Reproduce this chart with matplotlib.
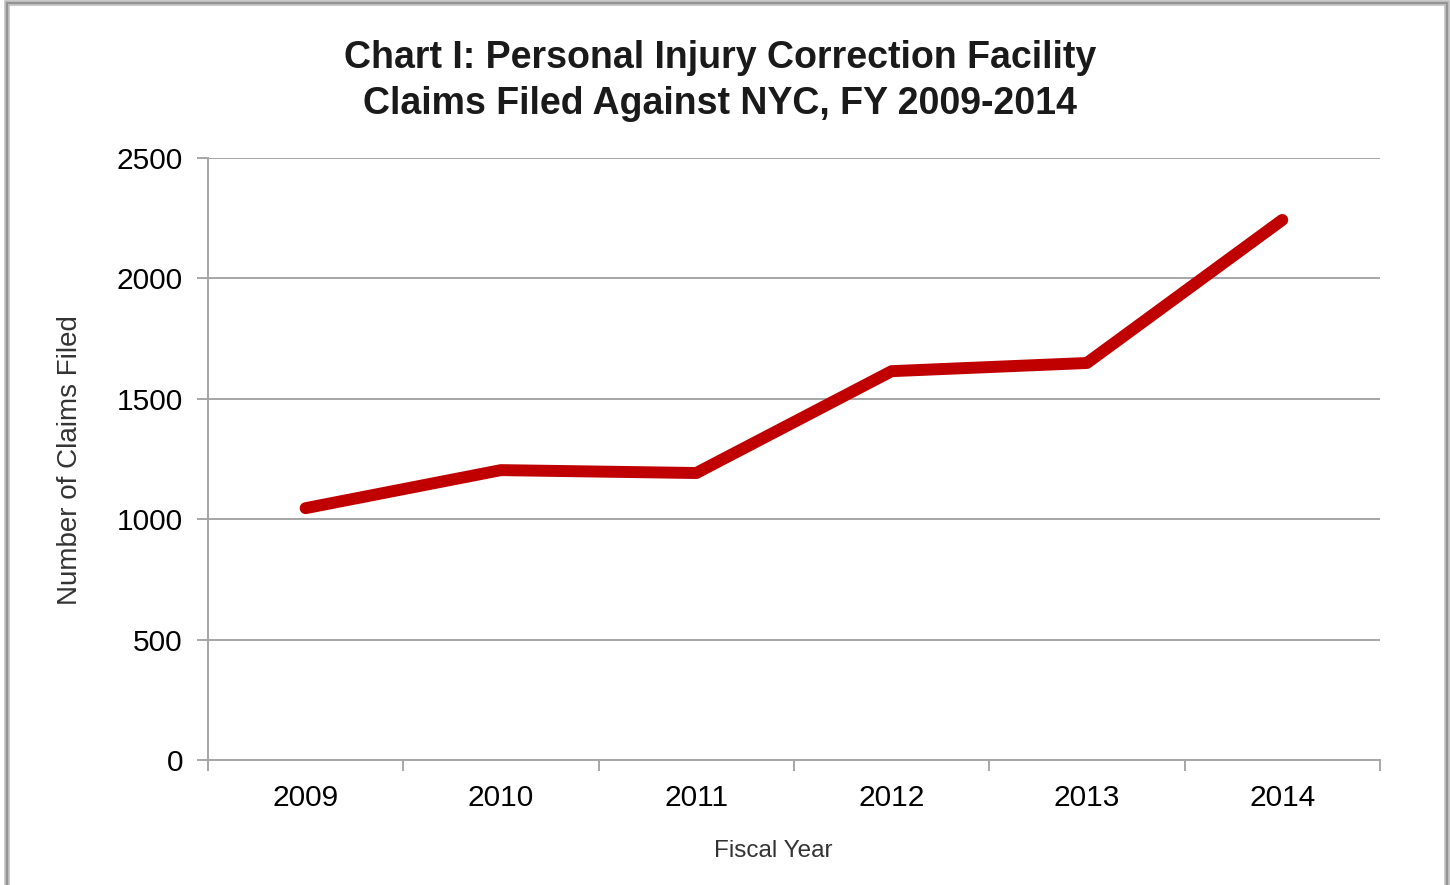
import matplotlib.pyplot as plt
from matplotlib.patches import Rectangle

# data
years = ['2009', '2010', '2011', '2012', '2013', '2014']
claims = [1046, 1204, 1192, 1615, 1649, 2243]
y_ticks = [0, 500, 1000, 1500, 2000, 2500]

plt.rcParams['font.family'] = ['Liberation Sans', 'DejaVu Sans']

fig = plt.figure(figsize=(14.5, 8.85), dpi=100)
ax = fig.add_axes([0.1434, 0.1412, 0.8083, 0.6802])

# outer frame with a bit of shadow
fig.patches.append(Rectangle((0.0048, -0.02), 0.9934, 1.0166, transform=fig.transFigure,
                             fill=False, edgecolor='#bdbdbd', linewidth=4, zorder=0))
fig.patches.append(Rectangle((0.0048, -0.02), 0.9934, 1.0166, transform=fig.transFigure,
                             fill=False, edgecolor='#8c8c8c', linewidth=1.2, zorder=1))

x = list(range(len(years)))
ax.plot(x, claims, color='#C00000', linewidth=8.6, solid_capstyle='round',
        solid_joinstyle='round', zorder=3)

grid_c = '#a6a6a6'
ax.set_xlim(-0.5, len(years) - 0.5)
ax.set_ylim(0, 2500)
ax.set_yticks(y_ticks)
ax.set_yticklabels([str(v) for v in y_ticks])
ax.yaxis.grid(True, color=grid_c, linewidth=1.4)
ax.set_axisbelow(True)

ax.set_xticks([i - 0.5 for i in range(len(years) + 1)])
ax.set_xticklabels([])
ax.set_xticks(x, minor=True)
ax.set_xticklabels(years, minor=True)
ax.tick_params(axis='x', which='major', length=8, width=1.4, color=grid_c)
ax.tick_params(axis='x', which='minor', length=0, pad=17, labelsize=21.5)
ax.tick_params(axis='y', length=8, width=1.4, color=grid_c, labelsize=21.5, pad=10)

for s in ['top', 'right']:
    ax.spines[s].set_visible(False)
for s in ['left', 'bottom']:
    ax.spines[s].set_color(grid_c)
    ax.spines[s].set_linewidth(1.4)

fig.text(773 / 1450, 1 - 851 / 885, 'Fiscal Year', ha='center', va='center',
         fontsize=17.5, color='#333333')
fig.text(70 / 1450, 1 - 460 / 885, 'Number of Claims Filed', ha='center', va='center',
         rotation=90, fontsize=20, color='#333333')

fig.text(720 / 1450, 1 - 81 / 885, 'Chart I: Personal Injury Correction Facility\nClaims Filed Against NYC, FY 2009-2014',
         ha='center', va='center', fontsize=27, fontweight='bold', color='#1a1a1a',
         linespacing=1.33)

fig.savefig('out.png', dpi=100)
